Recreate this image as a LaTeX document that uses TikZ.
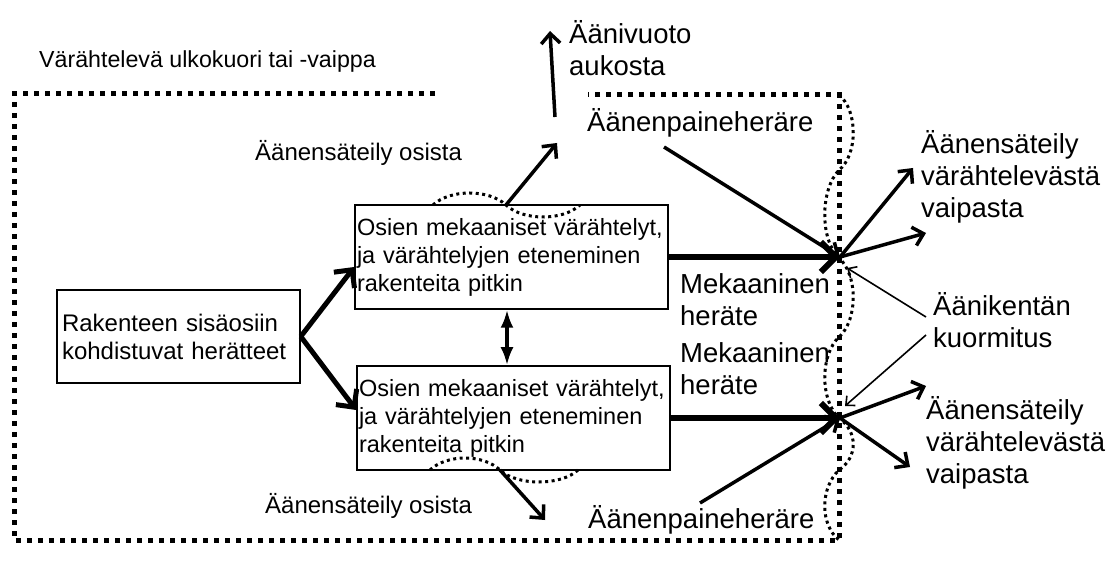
\documentclass[tikz,border=0pt]{standalone}
\usepackage{fontspec}
\setmainfont{Liberation Sans}
\usetikzlibrary{arrows.meta,calc}

\tikzset{
  lbl/.style={font=\fontsize{24}{30}\selectfont, inner sep=0pt, align=left, anchor=west},
  biglbl/.style={font=\fontsize{27.5}{32}\selectfont, inner sep=0pt, align=left, anchor=west},
  boxtxt/.style={draw, line width=1.5pt, font=\fontsize{23.5}{28}\selectfont, align=left,
                 inner xsep=2pt, inner ysep=0pt},
  shell/.style={line width=5pt, dash pattern=on 5pt off 6pt},
  wave/.style={line width=3pt, dash pattern=on 3pt off 3.5pt},
  bigarr/.style={line width=6pt, -{Straight Barb[length=15pt,width=30pt]}},
  fanarr/.style={line width=5pt, -{Straight Barb[length=13pt,width=26pt]}},
  medarr/.style={line width=3.5pt, -{Straight Barb[length=10pt,width=19pt]}},
  thinarr/.style={line width=1.6pt, -{Straight Barb[length=7pt,width=13pt]}},
  dblarr/.style={line width=3.5pt, {Latex[length=18pt,width=13pt]}-{Latex[length=18pt,width=13pt]}},
}

\begin{document}
\begin{tikzpicture}[x=1pt,y=-1pt]
\useasboundingbox (0,0) rectangle (1112,569);

% vibrating shell (outer dotted boundary)
\draw[shell] (435,94) -- (14,94) -- (14,540) -- (839,540) -- (839,95) -- (588,95);

% wavy deflection of the shell
\draw[wave] (839,95) .. controls (858,110) and (858,155) .. (839,170)
                     .. controls (820,190) and (820,240) .. (839,258)
                     .. controls (858,275) and (858,320) .. (839,337)
                     .. controls (820,355) and (820,400) .. (839,418)
                     .. controls (858,432) and (858,457) .. (839,470)
                     .. controls (820,488) and (820,525) .. (839,540);

% labels
\node[lbl, font=\fontsize{23.2}{30}\selectfont] (title) at (39,62) {Värähtelevä ulkokuori tai -vaippa};
\node[biglbl] (leak)  at (569,48) {Äänivuoto\\aukosta};
\node[biglbl] (pu)    at (587,123) {Äänenpaineheräre};
\node[lbl]    (so1)   at (255,153) {Äänensäteily osista};
\node[biglbl] (mek1)  at (680,300) {Mekaaninen\\heräte};
\node[biglbl] (mek2)  at (680,369) {Mekaaninen\\heräte};
\node[lbl]    (so2)   at (265,506) {Äänensäteily osista};
\node[biglbl] (pl)    at (588,520) {Äänenpaineheräre};
\node[biglbl] (rs1)   at (921,177) {Äänensäteily\\värähtelevästä\\vaipasta};
\node[biglbl] (kuorm) at (933,320) {Äänikentän\\kuormitus};
\node[biglbl] (rs2)   at (926,443) {Äänensäteily\\värähtelevästä\\vaipasta};

% boxes
\node[boxtxt, font=\fontsize{24}{28}\selectfont, text width=233pt, inner xsep=5pt,
      minimum height=93pt] (lb) at (178.5,336.5)
  {Rakenteen sisäosiin\\kohdistuvat herätteet};
\node[boxtxt, text width=309pt, minimum height=104pt] (box1) at (511.5,257)
  {Osien mekaaniset värähtelyt,\\ja värähtelyjen eteneminen\\rakenteita pitkin};
\node[boxtxt, text width=309pt, minimum height=104pt] (box2) at (513.5,418)
  {Osien mekaaniset värähtelyt,\\ja värähtelyjen eteneminen\\rakenteita pitkin};

% wavy surfaces of the parts
\draw[wave] (433,205) .. controls (450,189) and (489,189) .. (506,205)
                      .. controls (523,221) and (563,221) .. (580,205);
\draw[wave] (430,470) .. controls (447,454) and (483,454) .. (500,470)
                      .. controls (517,486) and (561,486) .. (578,470);

% connection points
\coordinate (c1) at (840,257);
\coordinate (c2) at (840,418);
\coordinate (w1) at (506,205);
\coordinate (w2) at (500,470);
\coordinate (lk0) at (555,117);
\coordinate (lk1) at (550,31);
\coordinate (r1) at (557,143);
\coordinate (r2) at (545,520);
\coordinate (pu0) at (664,147);
\coordinate (pl0) at (700,503);
\coordinate (o1a) at (913,168);
\coordinate (o1b) at (926,233);
\coordinate (o2a) at (926,386);
\coordinate (o2b) at (910,467);
\coordinate (k1) at (926,317);
\coordinate (k2) at (926,335);

% excitation into the parts
\draw[fanarr] (lb.east) -- ($(box1.west)+(0,10)$);
\draw[fanarr] (lb.east) -- ($(box2.west)+(0,-8)$);
\draw[dblarr] ($(box1.south)+(-4.5,0)$) -- ($(box2.north)+(-6.5,0)$);

% mechanical excitation of the shell
\draw[bigarr] (box1.east) -- (c1);
\draw[bigarr] (box2.east) -- (c2);

% radiation from the parts
\draw[medarr] (w1) -- (r1);
\draw[medarr] (w2) -- (r2);
\draw[medarr] (lk0) -- (lk1);
\draw[medarr] (pu0) -- (c1);
\draw[medarr] (pl0) -- (c2);

% radiation from the shell
\draw[medarr] (c1) -- (o1a);
\draw[medarr] (c1) -- (o1b);
\draw[medarr] (c2) -- (o2a);
\draw[medarr] (c2) -- (o2b);

% acoustic loading
\draw[thinarr] (k1) -- ($(c1)+(7,11)$);
\draw[thinarr] (k2) -- ($(c2)+(5,-12)$);
\end{tikzpicture}
\end{document}
